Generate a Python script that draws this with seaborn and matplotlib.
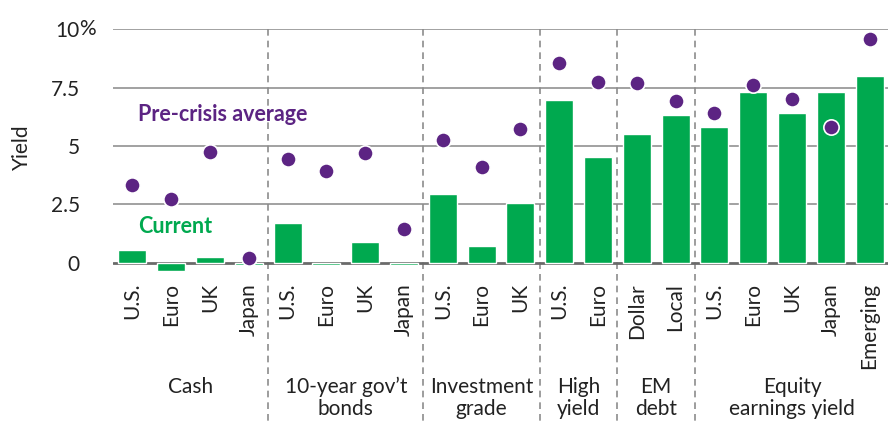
import matplotlib
matplotlib.use("Agg")
import matplotlib.pyplot as plt
import seaborn as sns
import pandas as pd
import matplotlib.transforms as mtransforms

group_labels = ["Cash", "10-year gov\u2019t\nbonds", "Investment\ngrade", "High\nyield",
                "EM\ndebt", "Equity\nearnings yield"]
group_sizes = [4, 4, 3, 2, 2, 5]
sub_labels = ["U.S.", "Euro", "UK", "Japan",
              "U.S.", "Euro", "UK", "Japan",
              "U.S.", "Euro", "UK",
              "U.S.", "Euro",
              "Dollar", "Local",
              "U.S.", "Euro", "UK", "Japan", "Emerging"]
current = [0.55, -0.37, 0.25, -0.12,
           1.70, -0.08, 0.89, -0.08,
           2.94, 0.72, 2.56,
           6.97, 4.53,
           5.52, 6.33,
           5.82, 7.32, 6.42, 7.32, 8.0]
pre_crisis = [3.32, 2.73, 4.76, 0.19,
              4.43, 3.94, 4.69, 1.44,
              5.26, 4.09, 5.73,
              8.57, 7.73,
              7.69, 6.94,
              6.43, 7.63, 7.03, 5.82, 9.59]
y_ticks = [0, 2.5, 5, 7.5, 10]
y_ticklabels = ["0", "2.5", "5", "7.5", "10"]

GREEN = "#00A94F"
PURPLE = "#5C2483"
TXT = "#222222"
FS = 15

keys = [f"{i:02d}" for i in range(len(sub_labels))]
df = pd.DataFrame({"key": keys, "sub": sub_labels,
                   "current": current, "pre": pre_crisis})

sns.set_style("white")
plt.rcParams["font.family"] = ["Lato", "DejaVu Sans"]

fig = plt.figure(figsize=(8.88, 4.22), dpi=100)
ax = fig.add_axes([113 / 888, 1 - 273.2 / 422, 776 / 888, (273.2 - 29.3) / 422])

for yv in [2.5, 5, 7.5, 10]:
    ax.axhline(yv, color="#9a9a9a", lw=1.3, zorder=0)
ax.axhline(0, color="#6a6a6a", lw=2.0, zorder=1.5)

sns.barplot(data=df, x="key", y="current", order=keys, color=GREEN,
            saturation=1, width=0.72, ax=ax, zorder=2)
sns.stripplot(data=df, x="key", y="pre", order=keys, color=PURPLE,
              jitter=False, size=11, edgecolor="white", linewidth=1.2,
              ax=ax, zorder=5)

ax.set_xlim(-0.5, len(keys) - 0.5)
ax.set_ylim(-0.45, 10)
for s in ax.spines.values():
    s.set_visible(False)

ax.set_yticks(y_ticks)
ax.set_yticklabels(y_ticklabels, fontsize=FS, color=TXT)
ax.tick_params(axis="y", length=0, pad=24)
ax.annotate("%", xy=(0, 10), xycoords=("axes fraction", "data"),
            xytext=(-24.5, 0), textcoords="offset points",
            fontsize=FS, color=TXT, ha="left", va="center")
ax.set_xticks(range(len(keys)))
ax.set_xticklabels(sub_labels, rotation=90, fontsize=FS, color=TXT)
ax.tick_params(axis="x", length=0, pad=7)
ax.set_xlabel("")
ax.set_ylabel("")
fig.text(22 / 888, 1 - 147 / 422, "Yield", rotation=90, fontsize=FS,
         color=TXT, ha="center", va="center")

# group separators and labels
trans = mtransforms.blended_transform_factory(ax.transData, fig.transFigure)
pos = 0
for i, (lab, n) in enumerate(zip(group_labels, group_sizes)):
    center = pos + (n - 1) / 2
    ax.text(center, 1 - 377 / 422, lab, transform=trans, ha="center", va="top",
            fontsize=FS, color=TXT, linespacing=1.1)
    pos += n
    if i < len(group_sizes) - 1:
        ax.plot([pos - 0.5, pos - 0.5], [10, -7], color="#8c8c8c", lw=1.2,
                ls=(0, (4, 3)), clip_on=False, zorder=1)

ax.text(0.15, 6.33, "Pre-crisis average", color=PURPLE, fontsize=15.5,
        fontweight="bold", ha="left", va="center")
ax.text(0.15, 1.53, "Current", color=GREEN, fontsize=15.5,
        fontweight="bold", ha="left", va="center")

fig.savefig("out.png", dpi=100)
